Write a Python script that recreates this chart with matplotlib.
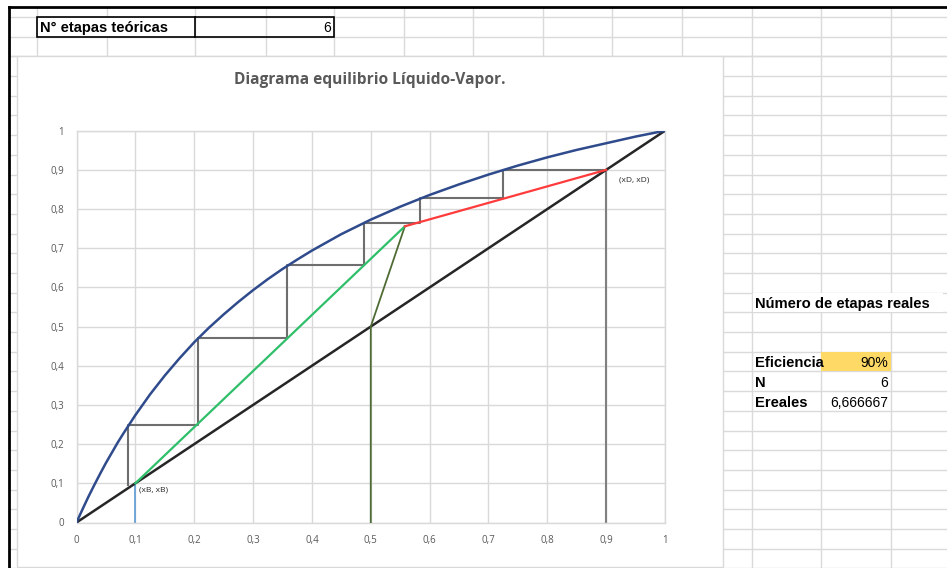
import matplotlib
matplotlib.use("Agg")
import matplotlib.pyplot as plt
from matplotlib.patches import Rectangle
from matplotlib.ticker import FixedLocator, FuncFormatter

# ---------------- data ----------------
x_eq = [0, 0.01, 0.02, 0.03, 0.04, 0.05, 0.06, 0.07, 0.08, 0.09, 0.1, 0.125, 0.15, 0.175,
        0.2, 0.225, 0.25, 0.275, 0.3, 0.325, 0.35, 0.375, 0.4, 0.45, 0.5,
        0.55, 0.6, 0.65, 0.7, 0.75, 0.8, 0.85, 0.9, 0.95, 1.0]
y_eq = [0, 0.033, 0.065, 0.095, 0.124, 0.152, 0.178, 0.204, 0.228, 0.251, 0.274, 0.327,
        0.375, 0.419, 0.460, 0.497, 0.531, 0.563, 0.593, 0.621, 0.647, 0.671, 0.694,
        0.736, 0.773, 0.806, 0.836, 0.863, 0.888, 0.911, 0.932, 0.951, 0.968, 0.985, 1.0]

diag_x = [0, 1]
diag_y = [0, 1]

stair_x = [0.9, 0.725, 0.725, 0.583, 0.583, 0.489, 0.489, 0.358, 0.358, 0.206, 0.206, 0.088, 0.088]
stair_y = [0.9, 0.9, 0.827, 0.827, 0.765, 0.765, 0.656, 0.656, 0.47, 0.47, 0.249, 0.249, 0.095]

rect_x = [0.9, 0.558]        # rectifying operating line
rect_y = [0.9, 0.756]
strip_x = [0.1, 0.558]       # stripping operating line
strip_y = [0.1, 0.756]
feed_x = [0.5, 0.5, 0.558]   # feed (q) line
feed_y = [0.0, 0.5, 0.756]
xd_x = [0.9, 0.9]
xd_y = [0.0, 0.9]
xb_x = [0.1, 0.1]
xb_y = [0.0, 0.1]

ticks = [0, 0.1, 0.2, 0.3, 0.4, 0.5, 0.6, 0.7, 0.8, 0.9, 1.0]

title = "Diagrama equilibrio Líquido-Vapor."
label_xb = "(xB, xB)"
label_xd = "(xD, xD)"

n_teoricas = "6"
eficiencia = "90%"
n_val = "6"
ereales = "6,666667"

# ---------------- figure ----------------
W, H = 947, 568
fig = plt.figure(figsize=(W / 100, H / 100), dpi=100)
bg = fig.add_axes([0, 0, 1, 1])
bg.set_xlim(0, W)
bg.set_ylim(H, 0)
bg.axis("off")

gcol = "#dadada"
glw = 1.0

# spreadsheet rows
row0 = 36.7
rh = 19.69
rows = [row0 + rh * k for k in range(28)]
cols_top = [37.3, 106.7, 195.0, 265.7, 334.3, 404.3, 473.3, 542.8, 612.3, 681.8, 751.5, 821.0, 890.7]

# top area (above chart)
for y in [16.7, 36.7, 56.0]:
    bg.plot([9, W], [y, y], color=gcol, lw=glw, zorder=1)
for x in cols_top:
    bg.plot([x, x], [6.7, 56.0], color=gcol, lw=glw, zorder=1)
for x in [751.5, 821.0, 890.7]:
    bg.plot([x, x], [56.0, H], color=gcol, lw=glw, zorder=1)
for y in rows[1:]:
    bg.plot([9, 17], [y, y], color=gcol, lw=glw, zorder=1)
    bg.plot([723, W], [y, y], color=gcol, lw=glw, zorder=1)

# hide gridlines covered by overflowing text
bg.add_patch(Rectangle((752.5, rows[13] + 0.8), 190, rh - 1.6, facecolor="white", edgecolor="none", zorder=2))
bg.add_patch(Rectangle((38.3, 17.5), 156, 18.5, facecolor="white", edgecolor="none", zorder=2))

# black borders of the sheet screenshot
bg.plot([9, 9], [6.7, H], color="black", lw=2.0, zorder=5)
bg.plot([9, W], [6.7, 6.7], color="black", lw=2.0, zorder=5)

# top table
bg.add_patch(Rectangle((37.3, 16.7), 297.0, 20.0, facecolor="none", edgecolor="black", lw=1.2, zorder=4))
bg.plot([195.0, 195.0], [16.7, 36.7], color="black", lw=1.2, zorder=4)
bg.text(40, 28, "N° etapas teóricas", fontsize=10.6, fontweight="bold",
        family="Liberation Sans", va="center", ha="left", zorder=6)
bg.text(331, 28, n_teoricas, fontsize=10, family="Liberation Sans",
        va="center", ha="right", zorder=6)

# right panel
bg.add_patch(Rectangle((821.0, rows[16] + 0.5), 69.7, rh - 1.0, facecolor="#ffd966", edgecolor="none", zorder=3))
cy = lambda k: rows[k] + rh / 2 + 1.8
bfs = 10.6
bg.text(755, cy(13), "Número de etapas reales", fontsize=bfs, fontweight="bold",
        family="Liberation Sans", va="center", ha="left", zorder=6)
bg.text(755, cy(16), "Eficiencia", fontsize=bfs, fontweight="bold",
        family="Liberation Sans", va="center", ha="left", zorder=6)
bg.text(755, cy(17), "N", fontsize=bfs, fontweight="bold",
        family="Liberation Sans", va="center", ha="left", zorder=6)
bg.text(755, cy(18), "Ereales", fontsize=bfs, fontweight="bold",
        family="Liberation Sans", va="center", ha="left", zorder=6)
bg.text(888, cy(16), eficiencia, fontsize=10, family="Liberation Sans", va="center", ha="right", zorder=6)
bg.text(888, cy(17), n_val, fontsize=10, family="Liberation Sans", va="center", ha="right", zorder=6)
bg.text(888, cy(18), ereales, fontsize=10, family="Liberation Sans", va="center", ha="right", zorder=6)

# chart area
bg.add_patch(Rectangle((16.7, 55.5), 706.3, 511.5, facecolor="white", edgecolor="#d9d9d9", lw=1.0, zorder=3))
bg.text(369.5, 80, title, fontsize=11.2, fontweight="bold", family="Open Sans",
        color="#595959", ha="center", va="center", zorder=6)

# ---------------- plot area ----------------
px0, px1 = 76.5, 665.0
py0, py1 = 522.5, 130.7
ax = fig.add_axes([px0 / W, (H - py0) / H, (px1 - px0) / W, (py0 - py1) / H])
ax.set_zorder(4)
ax.set_xlim(0, 1)
ax.set_ylim(0, 1)
ax.patch.set_alpha(0)
ax.xaxis.set_major_locator(FixedLocator(ticks))
ax.yaxis.set_major_locator(FixedLocator(ticks))
fmt = FuncFormatter(lambda v, p: ("%g" % round(v, 1)).replace(".", ","))
ax.xaxis.set_major_formatter(fmt)
ax.yaxis.set_major_formatter(fmt)
ax.grid(True, color="#d9d9d9", lw=1.0, zorder=0)
ax.set_axisbelow(True)
for s in ax.spines.values():
    s.set_color("#d9d9d9")
    s.set_linewidth(1.0)
ax.tick_params(length=0, labelsize=7, labelcolor="#595959", pad=9)
for lab in ax.get_xticklabels() + ax.get_yticklabels():
    lab.set_family("Open Sans")

ax.plot(diag_x, diag_y, color="#262626", lw=1.8, zorder=3, solid_capstyle="round")
ax.plot(x_eq, y_eq, color="#2f4b8c", lw=1.8, zorder=4, solid_joinstyle="round")
ax.plot(stair_x, stair_y, color="#6e6e6e", lw=1.5, zorder=3)
ax.plot(xd_x, xd_y, color="#808080", lw=1.5, zorder=2)
ax.plot(xb_x, xb_y, color="#5b9bd5", lw=1.2, zorder=2)
ax.plot(feed_x, feed_y, color="#4f6b35", lw=1.3, zorder=3)
ax.plot(strip_x, strip_y, color="#2fbf6a", lw=1.6, zorder=4)
ax.plot(rect_x, rect_y, color="#ff3b3b", lw=1.6, zorder=4)

ax.text(0.107, 0.082, label_xb, fontsize=6, family="Open Sans", color="#262626", va="center", ha="left")
ax.text(0.922, 0.873, label_xd, fontsize=6, family="Open Sans", color="#262626", va="center", ha="left")

fig.savefig("out.png", dpi=100)
